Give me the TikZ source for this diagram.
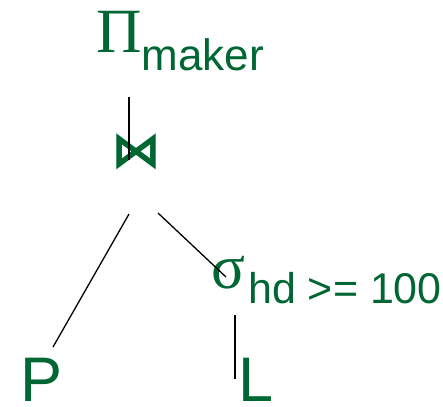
\documentclass[tikz,border=0pt]{standalone}
\usepackage{fontspec}
\setmainfont{Liberation Sans}
\newfontfamily\grfont{Liberation Serif}
\newfontfamily\joinfont{DejaVu Sans}
\usetikzlibrary{calc}
\definecolor{verde}{HTML}{006633}

\begin{document}
\begin{tikzpicture}[x=1pt, y=-1pt,
  op/.style={text=verde, inner sep=0pt, anchor=base west},
  rel/.style={text=verde, inner sep=0pt, anchor=base west, font=\fontsize{63}{63}\selectfont},
  arista/.style={black, line width=1.3pt}]
\useasboundingbox (0,0) rectangle (443,406);
\node[op] (proj) at (96,53) {{\grfont\fontsize{63}{63}\selectfont Π}\raisebox{-18pt}{\fontsize{44}{44}\selectfont maker}};
\node[text=verde, inner sep=0pt, font=\joinfont\bfseries\fontsize{50}{50}\selectfont] (join) at (136,152) {⋈};
\node[op] (sel) at (211,288) {{\grfont\fontsize{63}{63}\selectfont σ}\hspace{3pt}\raisebox{-15pt}{\fontsize{43}{43}\selectfont hd >= 100}};
\node[rel] (p) at (20,401) {P};
\node[rel] (l) at (238,401) {L};
\draw[arista, line width=2pt] ([shift={(33,44)}]proj.base west) -- ([shift={(-7,8)}]join.center);
\draw[arista] ([shift={(-7,62)}]join.center) -- ([shift={(33,-54)}]p.base west);
\draw[arista] ([shift={(22,61)}]join.center) -- ([shift={(15,-11)}]sel.base west);
\draw[arista, line width=2.6pt] ([shift={(24,27)}]sel.base west) -- ([shift={(-3,-22)}]l.base west);
\end{tikzpicture}
\end{document}
